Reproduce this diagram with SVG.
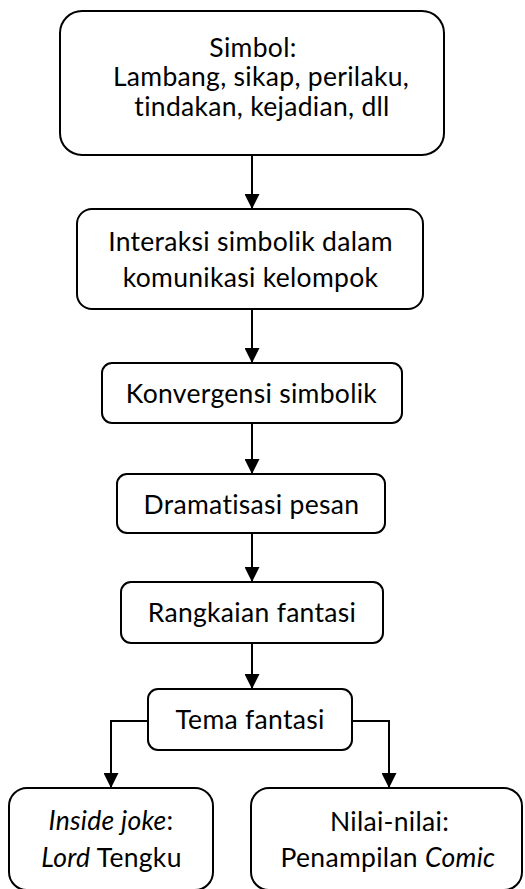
<svg xmlns="http://www.w3.org/2000/svg" width="525" height="889" viewBox="0 0 525 889">
<defs>
<marker id="ah" markerWidth="15" markerHeight="15" viewBox="0 0 15 15" refX="15" refY="7.5" orient="auto" markerUnits="userSpaceOnUse">
<path d="M0,0 L15,7.5 L0,15 Z" fill="#000"/>
</marker>
<style>
.box{fill:#fff;stroke:#000;stroke-width:2}
.t{font-family:Lato,"Liberation Sans",sans-serif;font-size:26.5px;letter-spacing:0.3px;font-variant-ligatures:none;fill:#000;text-anchor:middle}
.i{font-style:italic}
.c{fill:none;stroke:#000;stroke-width:2;marker-end:url(#ah)}
</style>
</defs>
<rect width="525" height="889" fill="#fff"/>
<g id="connectors">
<line class="c" x1="252" y1="155" x2="252" y2="209"/>
<line class="c" x1="252" y1="309" x2="252" y2="363"/>
<line class="c" x1="252" y1="423" x2="252" y2="474"/>
<line class="c" x1="252" y1="533" x2="252" y2="582"/>
<line class="c" x1="252" y1="643" x2="252" y2="689"/>
<path class="c" d="M148,721 H111 V788"/>
<path class="c" d="M352,721 H389 V788"/>
</g>
<g id="n1">
<rect class="box" x="60" y="11" width="384" height="144" rx="22"/>
<text class="t" x="253" y="56.5">Simbol:</text>
<text class="t" x="261" y="86">Lambang, sikap, perilaku,</text>
<text class="t" x="262" y="115.5">tindakan, kejadian, dll</text>
</g>
<g id="n2">
<rect class="box" x="77" y="209" width="346" height="100" rx="15"/>
<text class="t" x="250.5" y="251">Interaksi simbolik dalam</text>
<text class="t" x="250.5" y="287">komunikasi kelompok</text>
</g>
<g id="n3">
<rect class="box" x="102" y="363" width="300" height="60" rx="10"/>
<text class="t" x="251.5" y="402.5">Konvergensi simbolik</text>
</g>
<g id="n4">
<rect class="box" x="117" y="474" width="268" height="59" rx="10"/>
<text class="t" x="251.5" y="514">Dramatisasi pesan</text>
</g>
<g id="n5">
<rect class="box" x="121" y="582" width="262" height="61" rx="10"/>
<text class="t" x="252" y="621.5">Rangkaian fantasi</text>
</g>
<g id="n6">
<rect class="box" x="148" y="689" width="204" height="61" rx="10"/>
<text class="t" x="250" y="729">Tema fantasi</text>
</g>
<g id="n7">
<rect class="box" x="9" y="788" width="204" height="102" rx="18"/>
<text class="t" x="111" y="830"><tspan class="i">Inside joke</tspan>:</text>
<text class="t" x="111.5" y="866.5"><tspan class="i">Lord</tspan> Tengku</text>
</g>
<g id="n8">
<rect class="box" x="251" y="788" width="271" height="102" rx="18"/>
<text class="t" x="389.5" y="831">Nilai-nilai:</text>
<text class="t" x="388" y="867">Penampilan <tspan class="i">Comic</tspan></text>
</g>
</svg>
